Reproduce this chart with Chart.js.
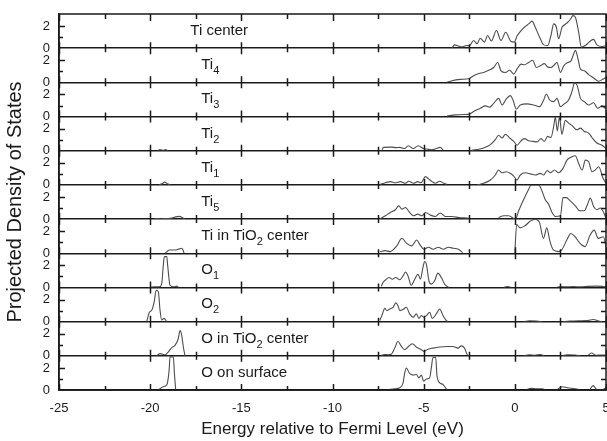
<!DOCTYPE html>
<html lang="en">
<head>
<meta charset="UTF-8">
<title>Projected Density of States</title>
<script src="https://cdn.jsdelivr.net/npm/chart.js@4.4.1/dist/chart.umd.min.js"></script>
<style>
    body { margin: 0; background: #fff; }
    #wrap { width: 607px; height: 441px; position: relative; }
</style>
</head>
<body>
<div id="wrap"><canvas id="pdos"></canvas></div>
<script>
// panel names, top to bottom ("_n" = subscript digit)
const panelNames = ['Ti center', 'Ti_4', 'Ti_3', 'Ti_2', 'Ti_1', 'Ti_5',
    'Ti in TiO_2 center', 'O_1', 'O_2', 'O in TiO_2 center', 'O on surface'];

const xTickValues = [-25, -20, -15, -10, -5, 0, 5];
const xTickMarks = [-25, -22.5, -20, -17.5, -15, -12.5, -10, -7.5, -5, -2.5, 0, 2.5, 5];
const yTickLabels = { 0: '0', 2: '2' };
const yTickMarks = [1, 2];

// [energy, pdos] pairs; null = gap
const tiCenter = [[-3.46,0],[-3.3,0.3],[-3.1,0.2],[-2.9,0.12],[-2.66,0.24],[-2.48,0.22],[-2.26,0.7],[-2.07,0.4],[-1.9,0.9],
    [-1.67,0.55],[-1.49,1.15],[-1.29,0.65],[-1.01,1.6],[-0.76,0.7],[-0.5,1.45],[-0.21,0.6],[-0.03,0.55],[0.12,1.1],[0.3,1.5],
    [0.52,1.9],[0.76,2.2],[0.94,2.45],[1.12,1.9],[1.36,1.0],[1.58,0.3],[1.8,0.24],[1.98,1.15],[2.13,2.2],[2.28,1.9],[2.4,0.85],
    [2.59,1.9],[2.71,2.1],[2.9,2.35],[3.04,2.6],[3.19,2.95],[3.32,2.8],[3.5,1.45],[3.65,0.1],[3.87,0.24],[4.18,0.7],[4.32,0.8],
    [4.5,0.3],[4.78,0.15],[5.0,0.24]];
const ti4 = [[-3.72,0],[-3.45,0.15],[-2.99,0.27],[-2.53,0.33],[-2.26,0.6],[-1.98,0.8],[-1.71,0.9],[-1.43,1.1],[-1.16,1.35],
    [-0.94,1.8],[-0.76,1.05],[-0.52,0.9],[-0.28,1.1],[-0.06,0.75],[0.12,1.2],[0.34,1.65],[0.52,1.6],[0.76,1.8],[0.98,2.0],
    [1.18,1.35],[1.4,1.5],[1.62,1.7],[1.8,1.4],[1.98,1.35],[2.17,1.6],[2.31,1.8],[2.5,0.9],[2.68,1.5],[2.9,1.8],[3.08,1.95],
    [3.23,2.6],[3.32,2.9],[3.45,2.25],[3.6,1.2],[3.81,1.05],[4.05,0.7],[4.32,0.4],[4.6,0.1],[4.84,0.3],[5.0,0.45]];
const ti3 = [[-3.72,0.05],[-3.26,0.15],[-2.8,0.18],[-2.48,0.24],[-2.17,0.55],[-1.89,0.75],[-1.62,0.97],[-1.38,0.85],[-1.16,1.2],
    [-0.89,1.65],[-0.7,1.05],[-0.47,1.6],[-0.25,1.9],[-0.1,1.5],[0.08,0.67],[0.3,1.05],[0.67,1.15],[1.03,1.05],[1.36,0.9],
    [1.58,1.5],[1.73,2.05],[1.91,1.5],[2.13,1.35],[2.31,1.65],[2.5,0.9],[2.71,1.15],[2.95,1.5],[3.13,2.25],[3.28,3.05],[3.41,2.85],
    [3.6,1.65],[3.81,1.35],[4.05,1.05],[4.32,1.25],[4.54,0.75],[4.78,0.97],[5.0,0.67]];
const ti2 = [[-19.6,0.02],[-19.45,0.1],[-19.3,0.04],[-19.15,0.1],[-19.05,0.02], null,
    [-7.3,0],[-7.2,0.3],[-6.75,0.33],[-6.5,0.28],[-6.3,0.3],[-6.05,0.2],[-5.84,0.45],[-5.57,0.2],[-5.3,0.45],[-5.02,0.2],
    [-4.84,0.15],[-4.57,0.08],[-4.3,0.2],[-4.1,0.3],[-3.92,0.05], null,
    [-2.5,0],[-2.07,0.1],[-1.71,0.25],[-1.34,0.55],[-1.07,1.0],[-0.89,1.4],[-0.7,1.15],[-0.52,1.5],[-0.28,1.15],[-0.06,0.85],
    [0.12,0.5],[0.34,0.9],[0.52,1.1],[0.76,0.9],[1.0,0.85],[1.22,0.8],[1.44,1.1],[1.62,0.85],[1.8,1.3],[1.98,1.2],[2.13,2.2],
    [2.22,3.05],[2.33,1.8],[2.45,3.05],[2.58,1.5],[2.77,2.75],[2.95,2.5],[3.13,2.3],[3.41,1.9],[3.6,2.05],[3.81,1.75],[4.05,1.6],
    [4.23,1.2],[4.5,0.7],[4.78,0.5],[5.0,0.2]];
const ti1 = [[-19.5,0],[-19.3,0.15],[-19.2,0.25],[-19.05,0.1],[-18.9,0], null,
    [-7.38,0.05],[-7.1,0.2],[-6.83,0.3],[-6.55,0.2],[-6.28,0.3],[-6.0,0.15],[-5.82,0.33],[-5.55,0.15],[-5.33,0.3],[-5.15,0.2],
    [-4.9,0.75],[-4.73,0.55],[-4.54,0.3],[-4.36,0.15],[-4.12,0.33],[-3.9,0.15],[-3.72,0.05], null,
    [-2.07,0],[-1.71,0.15],[-1.34,0.45],[-1.07,0.9],[-0.89,1.35],[-0.7,1.1],[-0.47,1.2],[-0.25,1.05],[-0.06,0.8],[0.12,0.45],
    [0.3,0.9],[0.58,1.1],[0.85,1.0],[1.12,0.9],[1.4,1.05],[1.58,0.9],[1.77,1.3],[1.95,1.1],[2.17,1.35],[2.4,1.1],[2.64,1.5],
    [2.86,2.25],[3.08,2.5],[3.32,2.65],[3.5,1.95],[3.69,1.35],[3.87,2.25],[4.05,2.1],[4.23,1.2],[4.41,1.35],[4.6,1.65],
    [4.84,0.6],[5.0,0.15]];
const ti5 = [[-19.8,0],[-19.6,0.06],[-19.4,0],[-19.2,0.06],[-19.0,0.04],[-18.8,0.1],[-18.6,0.2],[-18.4,0.25],[-18.2,0.1],[-18.1,0], null,
    [-7.38,0.05],[-7.1,0.3],[-6.83,0.6],[-6.55,0.85],[-6.37,1.2],[-6.19,0.9],[-6.0,1.05],[-5.77,0.6],[-5.55,0.3],[-5.33,0.45],
    [-5.09,0.3],[-4.9,0.6],[-4.63,0.36],[-4.36,0.24],[-4.09,0.55],[-3.81,0.24],[-3.45,0.24],[-2.99,0.12],[-2.63,0.1],[-2.48,0.05], null,
    [-0.89,0.15],[-0.61,0.3],[-0.34,0.3],[-0.06,0.06],[0.03,0],[0.21,0.75],[0.49,1.8],[0.76,2.7],[0.89,3.1],[1.31,3.1],[1.49,2.55],
    [1.67,1.75],[1.85,1.35],[2.04,0.6],[2.22,0.24],[2.5,0.3],[2.64,1.95],[2.82,1.95],[3.04,1.65],[3.32,1.2],[3.56,0.75],[3.81,0.75],
    [3.99,1.35],[4.14,1.9],[4.32,1.15],[4.5,0.85],[4.69,1.0],[4.87,0.6],[5.0,0.05]];
const tiInTiO2 = [[-19.2,0],[-19.1,0.1],[-18.95,0.3],[-18.6,0.3],[-18.4,0.4],[-18.27,0.45],[-18.2,0.3],[-18.14,0], null,
    [-7.39,0.15],[-7.11,0.24],[-6.84,0.15],[-6.47,0.67],[-6.2,1.36],[-5.93,0.9],[-5.66,0.67],[-5.38,1.2],[-5.2,0.76],[-4.98,0.36],
    [-4.74,0.55],[-4.47,0.36],[-4.2,0.55],[-3.92,0.36],[-3.65,0.55],[-3.37,0.45],[-3.1,0.36],[-2.86,0.06], null,
    [0.0,0],[0.1,2.6],[0.29,2.3],[0.56,2.5],[0.84,2.9],[1.11,3.1],[1.35,2.8],[1.57,1.35],[1.75,2.3],[1.93,1.05],[2.11,0.3],
    [2.39,0.15],[2.57,0.3],[2.85,1.2],[3.07,1.8],[3.3,1.5],[3.58,0.9],[3.85,0.6],[4.13,1.65],[4.35,2.1],[4.58,1.35],[4.86,1.5],[5.0,0.6]];
const o1 = [[-20.1,0],[-19.8,0.05],[-19.5,0.05],[-19.37,0.3],[-19.28,2.0],[-19.22,2.8],[-19.09,2.8],[-19.04,2.0],[-18.91,0.2],
    [-18.7,0.05],[-18.54,0.12],[-18.45,0], null,
    [-7.32,0.1],[-7.23,0.45],[-7.08,0.7],[-6.9,0.9],[-6.72,0.75],[-6.53,0.9],[-6.31,0.7],[-6.13,1.05],[-5.99,1.4],[-5.86,1.05],
    [-5.68,0.2],[-5.49,0.75],[-5.31,1.2],[-5.18,0.75],[-5.04,1.8],[-4.95,2.35],[-4.85,2.1],[-4.71,0.6],[-4.58,0.3],[-4.4,0.6],
    [-4.22,1.3],[-4.03,0.9],[-3.85,0.3],[-3.67,0.05],[-3.61,0], null,
    [-0.6,0],[-0.4,0.08],[-0.2,0], null,
    [2.3,0],[2.5,0.08],[2.8,0.05],[3.2,0.08],[3.6,0.05],[4.0,0.1],[4.5,0.12],[4.8,0.1],[5.0,0.05]];
const o2 = [[-20.19,0],[-20.04,0.85],[-19.91,1.05],[-19.78,1.8],[-19.67,2.85],[-19.55,2.7],[-19.46,1.05],[-19.37,0.15],
    [-19.24,0.3],[-19.09,0], null,
    [-7.41,0.1],[-7.26,0.7],[-7.14,1.2],[-7.01,1.0],[-6.86,1.15],[-6.68,1.3],[-6.53,1.7],[-6.41,1.45],[-6.31,1.0],[-6.13,1.1],
    [-5.95,1.3],[-5.77,0.7],[-5.58,0.4],[-5.4,0.7],[-5.26,0.3],[-5.13,0.55],[-5.0,0.4],[-4.85,0.55],[-4.67,0.85],[-4.53,0.3],
    [-4.31,0.7],[-4.12,1.15],[-3.94,0.55],[-3.76,0.1],[-3.67,0], null,
    [0.5,0],[0.8,0.08],[1.2,0.05],[1.5,0], null,
    [2.6,0],[3.0,0.05],[3.5,0.08],[4.0,0.1],[4.3,0.2],[4.6,0.05],[4.8,0]];
const oInTiO2 = [[-19.64,0],[-19.46,0.2],[-19.18,0.1],[-19.0,0.35],[-18.82,0.75],[-18.64,0.95],[-18.46,1.55],[-18.36,2.3],
    [-18.27,1.85],[-18.18,0.8],[-18.09,0], null,
    [-7.32,0.05],[-7.14,0.12],[-6.95,0.1],[-6.77,0.15],[-6.59,0.7],[-6.41,1.3],[-6.22,0.85],[-6.04,0.55],[-5.86,0.8],[-5.62,1.1],
    [-5.4,0.8],[-5.13,0.55],[-5.0,0.4],[-4.76,0.6],[-4.49,0.7],[-4.12,0.8],[-3.76,0.85],[-3.39,0.85],[-3.12,0.7],[-2.94,0.9],
    [-2.76,0.7],[-2.61,0.1],[-2.52,0], null,
    [0.5,0],[0.8,0.1],[1.1,0.05],[1.4,0.12],[1.6,0], null,
    [2.6,0],[2.9,0.1],[3.3,0.08],[3.6,0], null,
    [4.0,0],[4.2,0.25],[4.45,0.05],[4.8,0.08],[5.0,0.05]];
const oSurface = [[-19.55,0],[-19.28,0.3],[-19.09,0.45],[-18.96,1.8],[-18.91,3.0],[-18.73,3.0],[-18.67,1.5],[-18.6,0], null,
    [-6.95,0.05],[-6.59,0.1],[-6.31,0.2],[-6.13,0.65],[-6.04,1.55],[-5.95,2.0],[-5.77,1.5],[-5.58,1.35],[-5.4,1.4],[-5.26,1.1],
    [-5.13,1.35],[-5.0,0.8],[-4.85,1.0],[-4.67,1.1],[-4.58,2.0],[-4.49,2.95],[-4.34,2.95],[-4.27,1.3],[-4.12,0.65],[-3.94,0.5],
    [-3.76,0.1],[-3.67,0], null,
    [0.6,0],[0.9,0.15],[1.2,0.1],[1.5,0.12],[1.7,0], null,
    [2.3,0],[2.6,0.3],[2.9,0.2],[3.3,0.12],[3.6,0], null,
    [4.1,0],[4.3,0.4],[4.5,0.05],[4.8,0.05],[5.0,0.2]];

const panelSeries = [tiCenter, ti4, ti3, ti2, ti1, ti5, tiInTiO2, o1, o2, oInTiO2, oSurface];

const FONT = "'Liberation Sans', Arial, sans-serif";
const INK = '#1a1a1a';

function toPoints(series) {
    let lastX = 0;
    return series.map(p => {
        if (p === null) return { x: lastX + 0.01, y: null };
        lastX = p[0];
        return { x: p[0], y: p[1] };
    });
}

const datasets = panelSeries.map((s, i) => ({
    label: panelNames[i],
    data: toPoints(s),
    yAxisID: 'y' + i,
    borderColor: '#4d4d4d',
    borderWidth: 1.1,
    pointRadius: 0,
    spanGaps: false,
    cubicInterpolationMode: 'monotone'
}));

const scales = {
    x: {
        type: 'linear',
        min: -25,
        max: 5,
        grid: { display: false, drawTicks: false },
        border: { display: true, color: INK, width: 1.5 },
        afterBuildTicks: s => { s.ticks = xTickValues.map(v => ({ value: v })); },
        afterFit: s => { s.paddingRight = 0; s.paddingLeft = 0; s.height = 51; },
        ticks: { color: INK, font: { family: FONT, size: 13 }, padding: 11, maxRotation: 0, autoSkip: false },
        title: {
            display: true,
            text: 'Energy relative to Fermi Level (eV)',
            color: INK,
            font: { family: FONT, size: 17 },
            padding: { top: 3, bottom: 1 }
        }
    }
};

// left axes stack from the last defined one at the top
for (let i = panelNames.length - 1; i >= 0; i--) {
    scales['y' + i] = {
        type: 'linear',
        position: 'left',
        stack: 'pdos',
        stackWeight: 1,
        min: 0,
        max: 3.1,
        afterFit: s => { s.width = 59; s.paddingTop = 0; s.paddingBottom = 0; },
        grid: {
            drawTicks: false,
            color: c => (c.tick && c.tick.value === 0) ? INK : 'rgba(0,0,0,0)',
            lineWidth: 1.5
        },
        border: { display: true, color: INK, width: 1.5 },
        ticks: {
            stepSize: 1,
            includeBounds: false,
            autoSkip: false,
            padding: 9,
            color: INK,
            font: { family: FONT, size: 13 },
            callback: v => yTickLabels[v] !== undefined ? yTickLabels[v] : ''
        },
        title: {
            display: i === 5,
            text: 'Projected Density of States',
            color: INK,
            font: { family: FONT, size: 20 },
            padding: { top: 3, bottom: 16 }
        }
    };
}

function drawLabel(ctx, text, x, y) {
    const parts = text.split(/_(\d)/);
    let cx = x;
    parts.forEach((part, k) => {
        if (!part) return;
        const sub = k % 2 === 1;
        ctx.font = (sub ? '11px ' : '15px ') + FONT;
        ctx.fillText(part, cx, sub ? y + 5 : y);
        cx += ctx.measureText(part).width;
    });
}

const framePlugin = {
    id: 'panelFrame',
    afterDatasetsDraw(chart) {
        const { ctx, chartArea: a, scales: sc } = chart;
        const xs = sc.x;
        const last = panelNames.length - 1;
        ctx.save();
        ctx.strokeStyle = INK;
        ctx.lineWidth = 1.5;
        ctx.strokeRect(a.left, a.top, a.right - a.left, a.bottom - a.top);
        ctx.beginPath();
        panelNames.forEach((name, i) => {
            const ys = sc['y' + i];
            xTickMarks.forEach(v => {
                const px = Math.round(xs.getPixelForValue(v)) + 0.5;
                const len = v % 5 === 0 ? 6 : 4;
                ctx.moveTo(px, ys.bottom - len);
                ctx.lineTo(px, ys.bottom + (i < last ? len : 0));
                if (i === 0) { ctx.moveTo(px, ys.top); ctx.lineTo(px, ys.top + len + 1); }
            });
            yTickMarks.forEach(v => {
                const py = Math.round(ys.getPixelForValue(v)) + 0.5;
                const len = v === 2 ? 6 : 4;
                ctx.moveTo(a.left, py); ctx.lineTo(a.left + len, py);
                ctx.moveTo(a.right, py); ctx.lineTo(a.right - 5, py);
            });
        });
        ctx.stroke();

        ctx.fillStyle = INK;
        ctx.textBaseline = 'alphabetic';
        ctx.textAlign = 'left';
        panelNames.forEach((name, i) => {
            const ys = sc['y' + i];
            const lx = xs.getPixelForValue(i === 0 ? -17.8 : -17.2);
            drawLabel(ctx, name, lx, ys.top + 21);
        });
        ctx.restore();
    }
};

new Chart(document.getElementById('pdos'), {
    type: 'line',
    data: { datasets },
    options: {
        responsive: true,
        maintainAspectRatio: false,
        animation: false,
        layout: { padding: { left: 0, right: 1, top: 14, bottom: 0 } },
        plugins: { legend: { display: false }, tooltip: { enabled: false } },
        scales
    },
    plugins: [framePlugin]
});
</script>
</body>
</html>
